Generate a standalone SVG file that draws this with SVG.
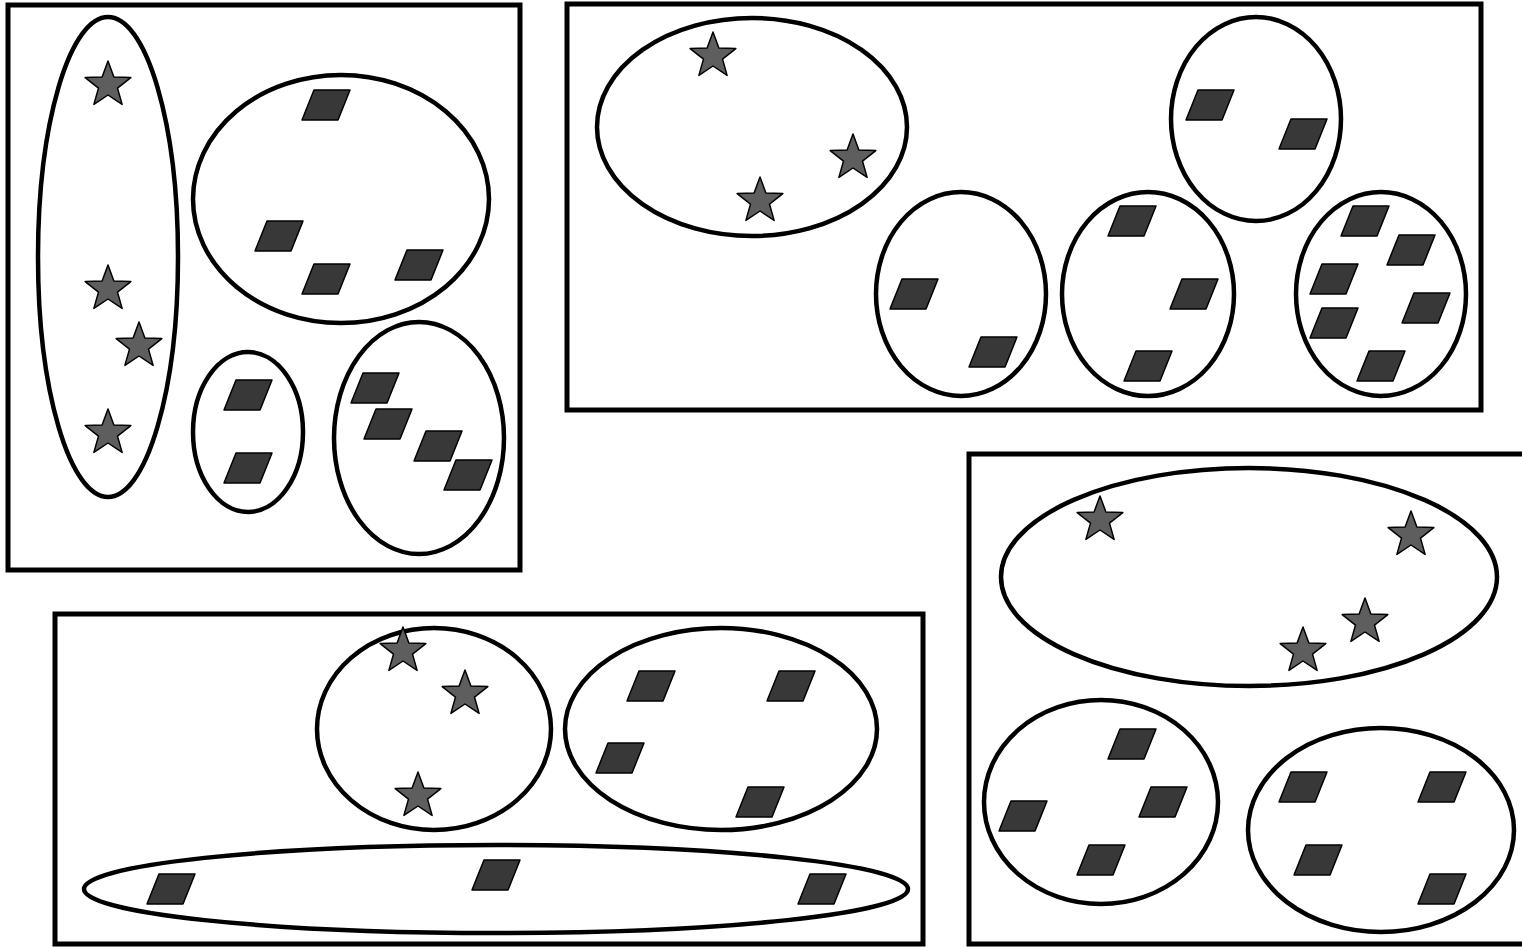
<svg xmlns="http://www.w3.org/2000/svg" xmlns:xlink="http://www.w3.org/1999/xlink" width="1522" height="947" viewBox="0 0 1522 947">
<style>
.box{fill:none;stroke:#000;stroke-width:5}
.grp{fill:none;stroke:#000;stroke-width:4.5}
.st{fill:#5e5e5e;stroke:#000;stroke-width:1.5;stroke-linejoin:round}
.pg{fill:#383838;stroke:#000;stroke-width:1.5;stroke-linejoin:round}
</style>
<defs>
<path id="star" d="M0,-24 L5.88,-8.09 L22.83,-7.42 L9.51,3.09 L14.11,19.42 L0,10 L-14.11,19.42 L-9.51,3.09 L-22.83,-7.42 L-5.88,-8.09 Z"/>
<polygon id="para" points="-12,-15 24,-15 12,15 -24,15"/>
</defs>
<rect width="1522" height="947" fill="#fff"/>

<g id="panel1">
<rect class="box" x="8" y="5" width="512" height="565"/>
<ellipse class="grp" cx="108" cy="257" rx="70" ry="240"/>
<ellipse class="grp" cx="341" cy="199" rx="148" ry="124"/>
<ellipse class="grp" cx="248" cy="432" rx="55" ry="80"/>
<ellipse class="grp" cx="419" cy="438" rx="85" ry="116"/>
<g class="st">
<use href="#star" x="108" y="85"/>
<use href="#star" x="108" y="289"/>
<use href="#star" x="139" y="346"/>
<use href="#star" x="108" y="433"/>
</g>
<g class="pg">
<use href="#para" x="326" y="105"/>
<use href="#para" x="279" y="236"/>
<use href="#para" x="326" y="279"/>
<use href="#para" x="419" y="265"/>
<use href="#para" x="248" y="395"/>
<use href="#para" x="248" y="468"/>
<use href="#para" x="375" y="388"/>
<use href="#para" x="388" y="424"/>
<use href="#para" x="438" y="446"/>
<use href="#para" x="468" y="475"/>
</g>
</g>

<g id="panel2">
<rect class="box" x="567" y="4" width="914" height="406"/>
<ellipse class="grp" cx="752" cy="127" rx="155" ry="109"/>
<ellipse class="grp" cx="1256" cy="119" rx="85" ry="102"/>
<ellipse class="grp" cx="961" cy="294" rx="85" ry="102"/>
<ellipse class="grp" cx="1148" cy="294" rx="86" ry="102"/>
<ellipse class="grp" cx="1381" cy="294" rx="85" ry="102"/>
<g class="st">
<use href="#star" x="713" y="56"/>
<use href="#star" x="853" y="158"/>
<use href="#star" x="760" y="201"/>
</g>
<g class="pg">
<use href="#para" x="1210" y="105"/>
<use href="#para" x="1303" y="134"/>
<use href="#para" x="914" y="294"/>
<use href="#para" x="993" y="352"/>
<use href="#para" x="1132" y="221"/>
<use href="#para" x="1194" y="294"/>
<use href="#para" x="1148" y="366"/>
<use href="#para" x="1365" y="221"/>
<use href="#para" x="1411" y="250"/>
<use href="#para" x="1334" y="279"/>
<use href="#para" x="1334" y="323"/>
<use href="#para" x="1426" y="308"/>
<use href="#para" x="1381" y="366"/>
</g>
</g>

<g id="panel3">
<rect class="box" x="969" y="454" width="600" height="490"/>
<ellipse class="grp" cx="1249" cy="577" rx="248" ry="109"/>
<ellipse class="grp" cx="1101" cy="802" rx="117" ry="102"/>
<ellipse class="grp" cx="1381" cy="830" rx="133" ry="102"/>
<g class="st">
<use href="#star" x="1100" y="520"/>
<use href="#star" x="1411" y="535"/>
<use href="#star" x="1365" y="622"/>
<use href="#star" x="1303" y="651"/>
</g>
<g class="pg">
<use href="#para" x="1132" y="744"/>
<use href="#para" x="1023" y="816"/>
<use href="#para" x="1163" y="802"/>
<use href="#para" x="1101" y="860"/>
<use href="#para" x="1303" y="787"/>
<use href="#para" x="1442" y="787"/>
<use href="#para" x="1318" y="860"/>
<use href="#para" x="1442" y="889"/>
</g>
</g>

<g id="panel4">
<rect class="box" x="55" y="614" width="868" height="330"/>
<ellipse class="grp" cx="434" cy="729" rx="117" ry="101"/>
<ellipse class="grp" cx="721" cy="729" rx="156" ry="101"/>
<ellipse class="grp" cx="496" cy="889" rx="412" ry="44"/>
<g class="st">
<use href="#star" x="403" y="651"/>
<use href="#star" x="465" y="694"/>
<use href="#star" x="418" y="796"/>
</g>
<g class="pg">
<use href="#para" x="651" y="686"/>
<use href="#para" x="791" y="686"/>
<use href="#para" x="620" y="758"/>
<use href="#para" x="760" y="802"/>
<use href="#para" x="171" y="889"/>
<use href="#para" x="496" y="875"/>
<use href="#para" x="822" y="889"/>
</g>
</g>

<g id="connectors"></g>
</svg>
